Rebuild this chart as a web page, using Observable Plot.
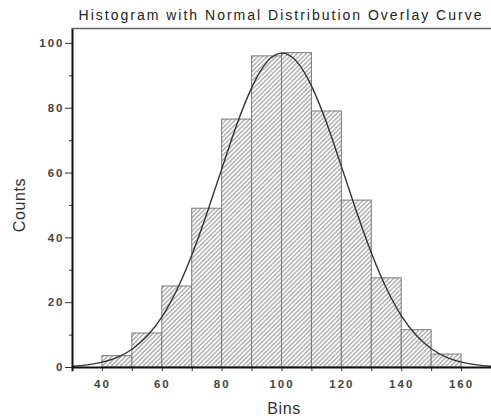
<!DOCTYPE html>
<html><head><meta charset="utf-8">
<script src="https://cdn.jsdelivr.net/npm/d3@7"></script>
<script src="https://cdn.jsdelivr.net/npm/@observablehq/plot@0.6"></script>
<style>body{margin:0;background:#fff} svg{display:block}</style>
</head><body><div id="chart"></div>
<script>
const binStart = [40, 50, 60, 70, 80, 90, 100, 110, 120, 130, 140, 150];
const binWidth = 10;
const counts = [3.5, 10.5, 25, 49, 76.5, 96, 97, 79, 51.5, 27.5, 11.5, 4];
const curveX = [30,35,40,45,50,55,60,65,70,75,80,85,90,95,100,105,110,115,120,125,130,135,140,145,150,155,160,165,170];
const curveY = [0.37,0.81,1.64,3.1,5.7,9.8,15.8,24.2,35.0,47.8,61.6,75.2,86.6,94.3,97,94.3,86.6,75.2,61.6,47.8,35.0,24.2,15.8,9.8,5.7,3.1,1.64,0.81,0.37];
const xTicks = [30,40,50,60,70,80,90,100,110,120,130,140,150,160,170];
const xTickLabels = [40,60,80,100,120,140,160];
const yMajorTicks = [0,20,40,60,80,100];
const yMinorTicks = [10,30,50,70,90];
const title = "Histogram with Normal Distribution Overlay Curve";
const xLabel = "Bins";
const yLabel = "Counts";
const xDomain = [30,170];
const yDomain = [0,104.6];

const bars = binStart.map((b,i)=>({x1:b, x2:b+binWidth, y:counts[i]}));
const curve = curveX.map((x,i)=>({x, y:curveY[i]}));
const font = "'Liberation Sans', Arial, sans-serif";

const chart = Plot.plot({
  width: 491, height: 420,
  marginLeft: 72, marginRight: 0, marginTop: 28, marginBottom: 53,
  style: {fontFamily: font, background: "#fff", color: "#333"},
  x: {domain: xDomain},
  y: {domain: yDomain},
  marks: [
    Plot.rect(bars, {x1:"x1", x2:"x2", y1:0, y2:"y", fill:"url(#hatch)", stroke:"#7a7a7a", strokeWidth:1}),
    Plot.line(curve, {x:"x", y:"y", curve:"natural", stroke:"#333", strokeWidth:1.4}),
    Plot.axisX({ticks: xTicks, tickSize: 4, tickPadding: 8, label: null,
      tickFormat: d => xTickLabels.includes(d) ? String(d) : "", fontSize: 11.5, fontWeight: "bold", fill: "#444"}),
    Plot.axisY({ticks: yMajorTicks, tickSize: 7, tickPadding: 1, label: null, fontSize: 11.5, fontWeight: "bold", fill: "#444"}),
    Plot.axisY({ticks: yMinorTicks, tickSize: 3, tickFormat: () => "", label: null}),
    Plot.ruleX([xDomain[0]], {y1: -1.3, y2: yDomain[1], stroke: "#111", strokeWidth: 2}),
    Plot.ruleY([0], {stroke: "#111", strokeWidth: 2}),
    Plot.ruleY([yDomain[1]], {stroke: "#666", strokeWidth: 1.5}),
    Plot.text([title], {text: d => d, frameAnchor: "top", dy: -13, dx: -1, lineAnchor: "middle", textAnchor: "middle", fontSize: 14, fill: "#222"}),
    Plot.text([xLabel], {text: d => d, frameAnchor: "bottom", dy: 41, dx: 2, lineAnchor: "middle", textAnchor: "middle", fontSize: 16, fill: "#333"}),
    Plot.text([yLabel], {text: d => d, frameAnchor: "left", dx: -53, dy: 7, rotate: -90, lineAnchor: "middle", textAnchor: "middle", fontSize: 16, fill: "#333"})
  ]
});

d3.select(chart).insert("defs", ":first-child").html(
  '<pattern id="hatch" patternUnits="userSpaceOnUse" width="3.2" height="3.2" patternTransform="rotate(45)">' +
  '<rect width="3.2" height="3.2" fill="#fff"/>' +
  '<line x1="1.6" y1="0" x2="1.6" y2="3.2" stroke="#7c7c7c" stroke-width="0.9"/></pattern>');
d3.select(chart).selectAll('g[aria-label="x-axis tick label"] text, g[aria-label="y-axis tick label"] text').style("letter-spacing", "2px");
d3.select(chart).selectAll('g[aria-label="text"] text').filter(function(){return this.textContent === title;}).style("letter-spacing", "2px");
d3.select(chart).selectAll('g[aria-label="text"] text').filter(function(){return this.textContent === xLabel || this.textContent === yLabel;}).style("letter-spacing", "0.6px");
document.getElementById("chart").append(chart);
</script>
</body></html>
